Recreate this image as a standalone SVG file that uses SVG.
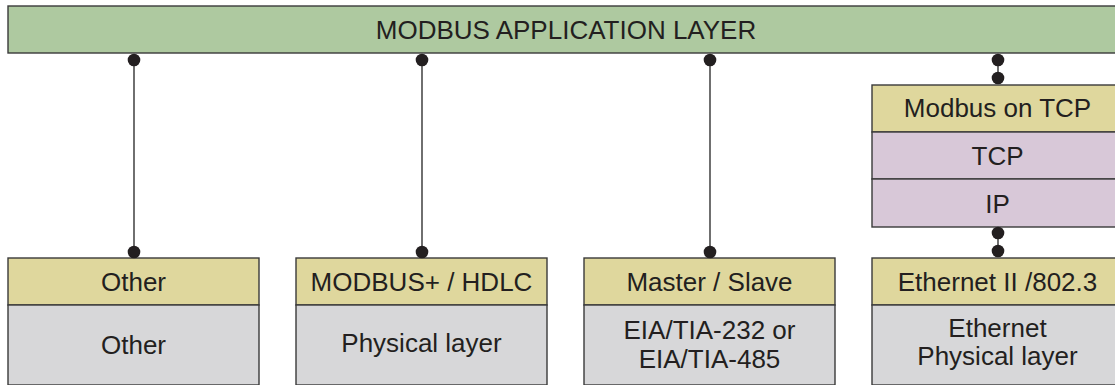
<svg xmlns="http://www.w3.org/2000/svg" width="1115" height="385" viewBox="0 0 1115 385">
<style>
rect{stroke:#3a3a3a;stroke-width:1.4}
.g{fill:#aec9a0}
.y{fill:#dfd79d}
.p{fill:#d8c8d8}
.s{fill:#d7d7d9}
text{font-family:"Liberation Sans",Arial,sans-serif;font-size:26px;fill:#231f20;text-anchor:middle}
.ln{stroke:#333;stroke-width:1.4;fill:none}
.dot{fill:#231f20}
</style>
<g id="app-layer">
<rect class="g" x="8" y="6" width="1120" height="47"/>
<text x="566" y="39">MODBUS APPLICATION LAYER</text>
</g>
<g id="stack-other">
<rect class="y" x="8" y="258" width="251" height="47"/>
<rect class="s" x="8" y="305" width="251" height="80"/>
<text x="133.5" y="291">Other</text>
<text x="133.5" y="354">Other</text>
</g>
<g id="stack-hdlc">
<rect class="y" x="296" y="258" width="251" height="47"/>
<rect class="s" x="296" y="305" width="251" height="80"/>
<text x="421.5" y="291">MODBUS+ / HDLC</text>
<text x="421.5" y="352">Physical layer</text>
</g>
<g id="stack-serial">
<rect class="y" x="584" y="258" width="251" height="47"/>
<rect class="s" x="584" y="305" width="251" height="80"/>
<text x="709.5" y="291">Master / Slave</text>
<text x="709.5" y="339">EIA/TIA-232 or</text>
<text x="709.5" y="368">EIA/TIA-485</text>
</g>
<g id="stack-tcp">
<rect class="y" x="872" y="85" width="251" height="47"/>
<rect class="p" x="872" y="132" width="251" height="47"/>
<rect class="p" x="872" y="179" width="251" height="48"/>
<text x="997.5" y="117">Modbus on TCP</text>
<text x="997.5" y="165">TCP</text>
<text x="997.5" y="213">IP</text>
</g>
<g id="stack-ethernet">
<rect class="y" x="872" y="258" width="251" height="47"/>
<rect class="s" x="872" y="305" width="251" height="80"/>
<text x="997.5" y="291">Ethernet II /802.3</text>
<text x="997.5" y="337">Ethernet</text>
<text x="997.5" y="365">Physical layer</text>
</g>
<g id="connectors">
<line class="ln" x1="134" y1="60" x2="134" y2="252"/>
<circle class="dot" cx="134" cy="60" r="6.3"/>
<circle class="dot" cx="134" cy="252" r="6.3"/>
<line class="ln" x1="422" y1="60" x2="422" y2="252"/>
<circle class="dot" cx="422" cy="60" r="6.3"/>
<circle class="dot" cx="422" cy="252" r="6.3"/>
<line class="ln" x1="710" y1="60" x2="710" y2="252"/>
<circle class="dot" cx="710" cy="60" r="6.3"/>
<circle class="dot" cx="710" cy="252" r="6.3"/>
<line class="ln" x1="998" y1="60" x2="998" y2="78"/>
<circle class="dot" cx="998" cy="60" r="6.3"/>
<circle class="dot" cx="998" cy="78" r="6.3"/>
<line class="ln" x1="998" y1="233" x2="998" y2="251"/>
<circle class="dot" cx="998" cy="233" r="6.3"/>
<circle class="dot" cx="998" cy="251" r="6.3"/>
</g>
</svg>
